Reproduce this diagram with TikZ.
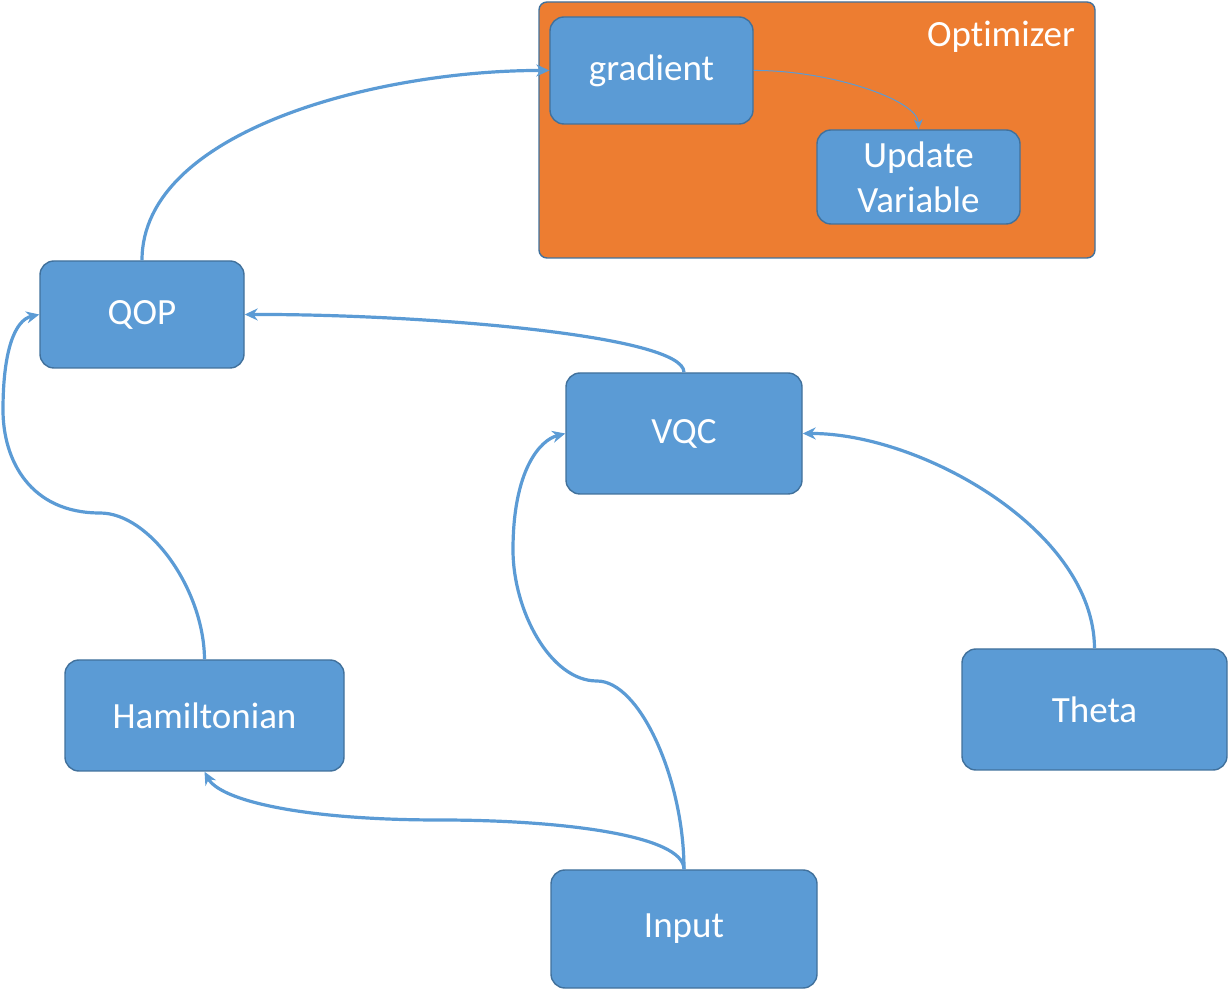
\documentclass[tikz,border=0pt]{standalone}
\usepackage{fontspec}
\setmainfont{Carlito}[Ligatures=NoCommon]
\usetikzlibrary{arrows.meta}
\definecolor{BoxFill}{HTML}{5B9BD5}
\definecolor{BoxLine}{HTML}{41719C}
\definecolor{OptFill}{HTML}{ED7D31}

\begin{document}
\begin{tikzpicture}[x=0.5pt,y=-0.5pt,
  blk/.style={rectangle,rounded corners=7pt,fill=BoxFill,draw=BoxLine,line width=0.7pt,
    text=white,align=center,inner sep=0pt},
  link/.style={draw=BoxFill,line width=1.6pt,-{Stealth[length=6.5pt,width=6pt]}},
  every node/.style={font=\fontsize{18.5}{22.5}\selectfont}]
\useasboundingbox (0,0) rectangle (1228,989);
% optimizer frame
\node[rectangle,rounded corners=4pt,fill=OptFill,draw=BoxLine,line width=0.7pt,
  minimum width=278pt,minimum height=128pt] (opt) at (817,130) {};
\node[text=white] (optlbl) at (1001,37) {Optimizer};
\node[blk,minimum width=101.5pt,minimum height=53.5pt] (grad) at (651.5,70.5) {gradient};
\node[blk,minimum width=101.5pt,minimum height=47pt] (upd) at (918.5,177) {Update\\Variable};
% blocks
\node[blk,minimum width=102pt,minimum height=53.5pt] (qop) at (142,314.5) {QOP};
\node[blk,minimum width=118pt,minimum height=60.5pt] (vqc) at (684,433.5) {VQC};
\node[blk,minimum width=139.5pt,minimum height=55.5pt] (ham) at (204.5,715.5) {Hamiltonian};
\node[blk,minimum width=132.5pt,minimum height=60.5pt] (theta) at (1094.5,709.5) {Theta};
\node[blk,minimum width=133pt,minimum height=59pt] (inp) at (684,929) {Input};
% connectors
\coordinate (hk) at (100,513);
\coordinate (ik) at (597,681);
\coordinate (lk) at (440,820);
\draw[link] (qop.north) .. controls (142,130) and (380,70) .. (grad.west);
\draw[draw=BoxFill,line width=0.5pt,-{Stealth[length=5pt,width=4.5pt]}]
  (grad.east) .. controls (830,70) and (918,100) .. (upd.north);
\draw[link] (vqc.north) .. controls (684,335) and (420,314) .. (qop.east);
\draw[link] (ham.north) .. controls (204,590) and (150,513) .. (hk)
  .. controls (30,513) and (3,460) .. (3,410) .. controls (3,350) and (15,320) .. (qop.west);
\draw[link] (inp.north) .. controls (684,780) and (640,681) .. (ik)
  .. controls (550,681) and (513,610) .. (513,550) .. controls (513,470) and (540,440) .. (vqc.west);
\draw[link] (inp.north) .. controls (684,835) and (560,820) .. (lk)
  .. controls (300,820) and (220,800) .. (ham.south);
\draw[link] (theta.north) .. controls (1094,530) and (920,433) .. (vqc.east);
\end{tikzpicture}
\end{document}
